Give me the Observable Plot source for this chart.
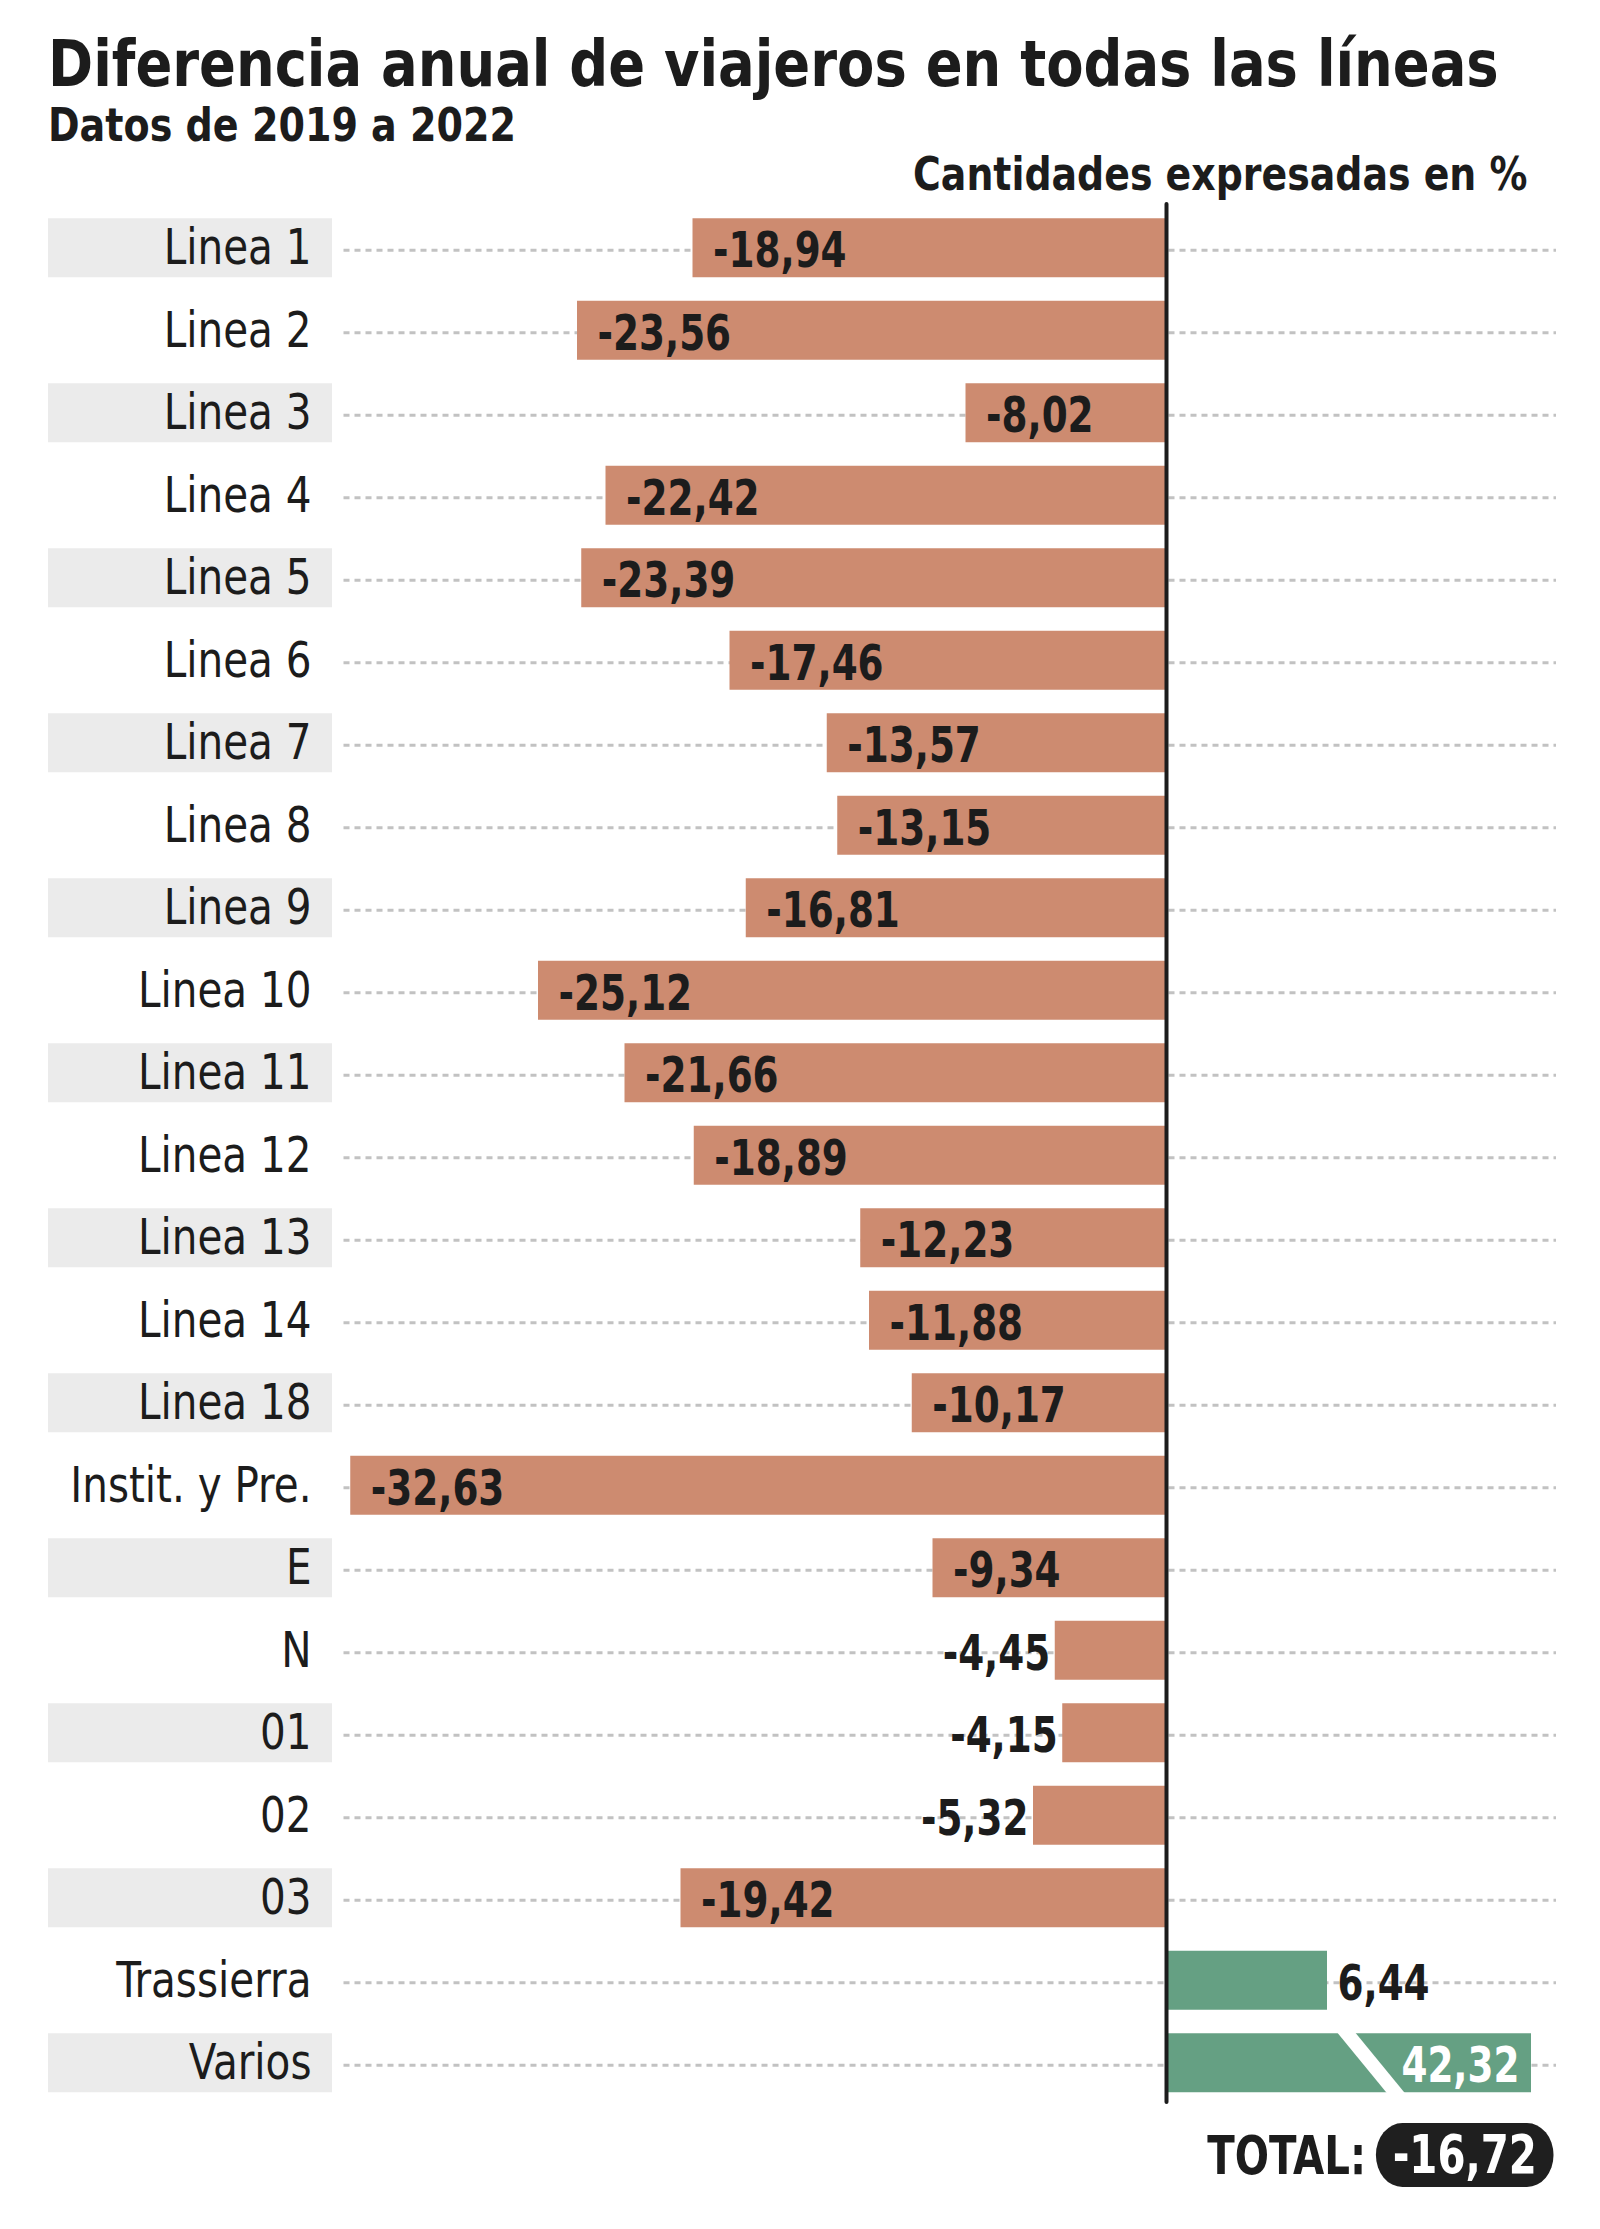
<!DOCTYPE html>
<html>
<head>
<meta charset="utf-8">
<script src="https://cdn.jsdelivr.net/npm/d3@7"></script>
<script src="https://cdn.jsdelivr.net/npm/@observablehq/plot@0.6"></script>
<style>
  html, body { margin: 0; padding: 0; background: #fff; }
  body { width: 1600px; height: 2229px; overflow: hidden;
         font-family: "DejaVu Sans Condensed", "Liberation Sans Narrow", "Roboto", sans-serif; color: #1c1c1c; }
  #header { position: relative; height: 196px; }
  #title { position: absolute; left: 48px; top: 32px; font-size: 64px; line-height: 1; font-weight: 700; white-space: nowrap;
           transform: scaleX(0.944); transform-origin: left center; }
  #subtitle { position: absolute; left: 48px; top: 102px; font-size: 46px; line-height: 1; font-weight: 700; white-space: nowrap;
              transform: scaleX(0.92); transform-origin: left center; }
  #unit { position: absolute; right: 73px; top: 151px; font-size: 46px; line-height: 1; font-weight: 700; white-space: nowrap;
          transform: scaleX(0.915); transform-origin: right center; }
  #chart svg { display: block; }
  #footer { display: flex; justify-content: flex-end; align-items: center; padding-right: 56px; margin-top: 13px; gap: 12px;
            transform: scaleX(0.83); transform-origin: right center; }
  #footer .lab { font-size: 54px; font-weight: 700; }
  #footer .pill { background: #1f1f1f; color: #fff; font-size: 54px; font-weight: 700; height: 64px; line-height: 64px; border-radius: 32px; padding: 0 20px; }
</style>
</head>
<body>
<div id="header">
  <div id="title">Diferencia anual de viajeros en todas las líneas</div>
  <div id="subtitle">Datos de 2019 a 2022</div>
  <div id="unit">Cantidades expresadas en %</div>
</div>
<div id="chart"></div>
<div id="footer"><span class="lab">TOTAL:</span><span class="pill" id="total"></span></div>
<script>
// ---- data ----
const categories = ["Linea 1","Linea 2","Linea 3","Linea 4","Linea 5","Linea 6","Linea 7","Linea 8","Linea 9","Linea 10","Linea 11","Linea 12","Linea 13","Linea 14","Linea 18","Instit. y Pre.","E","N","01","02","03","Trassierra","Varios"];
const values = [-18.94,-23.56,-8.02,-22.42,-23.39,-17.46,-13.57,-13.15,-16.81,-25.12,-21.66,-18.89,-12.23,-11.88,-10.17,-32.63,-9.34,-4.45,-4.15,-5.32,-19.42,6.44,42.32];
const total = -16.72;

// ---- layout/style constants (data units on x) ----
const barCap = 14.6;        // broken-bar display limit
const breakAt = 8.2;        // centre of the axis-break slash
const labelX = -34.2;       // right edge of category labels
const bgX1 = -44.72, bgX2 = -33.36; // grey label backgrounds
const gridX1 = -32.9, gridX2 = 15.6;
const NEG = "#cd8b70", POS = "#65a083", INK = "#1c1c1c";

const fmt = v => d3.format(".2f")(v).replace(".", ",").replace("−", "-");
const data = categories.map((c, i) => ({cat: c, v: values[i], i}));

const valueStyle = {fontSize: 50, fontWeight: 700, dy: 3};
const plot = Plot.plot({
  width: 1600,
  height: 1914,
  marginTop: 8, marginBottom: 8, marginLeft: 0, marginRight: 0,
  x: {domain: [-46.64, 17.36], range: [0, 1600], axis: null},
  y: {domain: categories, range: [10.5, 1908], paddingInner: 0.285, paddingOuter: 0.1425, round: false, axis: null},
  style: {fontFamily: "'DejaVu Sans Condensed','Liberation Sans Narrow',sans-serif", color: INK, background: "white"},
  marks: [
    Plot.barX(data.filter(d => d.i % 2 === 0), {y: "cat", x1: bgX1, x2: bgX2, fill: "#ebebeb"}),
    Plot.ruleY(data, {y: "cat", x1: gridX1, x2: gridX2, stroke: "#c2c2c2", strokeWidth: 3, strokeDasharray: "6,5", dy: 2}),
    Plot.barX(data, {y: "cat", x1: 0, x2: d => Math.min(d.v, barCap), fill: d => d.v < 0 ? NEG : POS}),
    Plot.ruleX([0], {stroke: INK, strokeWidth: 4, strokeLinecap: "round"}),
    Plot.text(data, {y: "cat", x: labelX, text: "cat", textAnchor: "end", fontSize: 50, fill: INK, className: "cat-label"}),
    // value labels inside negative bars
    Plot.text(data.filter(d => d.v <= -6), {y: "cat", x: "v", text: d => fmt(d.v), textAnchor: "start", dx: 20, fill: INK, className: "val-label", ...valueStyle}),
    // small negative bars: label outside
    Plot.text(data.filter(d => d.v < 0 && d.v > -6), {y: "cat", x: "v", text: d => fmt(d.v), textAnchor: "end", dx: -5, fill: INK, className: "val-label", ...valueStyle}),
    // positive, not broken
    Plot.text(data.filter(d => d.v > 0 && d.v <= barCap), {y: "cat", x: "v", text: d => fmt(d.v), textAnchor: "start", dx: 10, fill: INK, className: "val-label", ...valueStyle}),
    // positive broken bar
    Plot.text(data.filter(d => d.v > barCap), {y: "cat", x: barCap, text: d => fmt(d.v), textAnchor: "end", dx: -12, fill: "white", className: "val-label", ...valueStyle})
  ]
});
document.getElementById("chart").append(plot);
document.getElementById("total").textContent = fmt(total);

// condense SVG text horizontally (narrow typeface look)
function condense(sel, k) {
  d3.select(plot).selectAll(sel).each(function () {
    const w = this.getComputedTextLength();
    this.setAttribute("textLength", (w * k).toFixed(1));
    this.setAttribute("lengthAdjust", "spacingAndGlyphs");
  });
}
condense(".cat-label text", 0.9);
condense(".val-label text", 0.83);

// axis-break slash on the broken bar
const xs = plot.scale("x"), ys = plot.scale("y");
const svg = d3.select(plot);
data.filter(d => d.v > barCap).forEach(d => {
  const y0 = ys.apply(d.cat), bw = ys.bandwidth;
  const xc = xs.apply(breakAt), half = 9, slant = 25;
  svg.insert("polygon", ".val-label")
    .attr("points", [
      [xc - slant - half, y0 - 1], [xc - slant + half, y0 - 1],
      [xc + slant + half, y0 + bw + 1], [xc + slant - half, y0 + bw + 1]
    ].map(p => p.join(",")).join(" "))
    .attr("fill", "white");
});
</script>
</body>
</html>
